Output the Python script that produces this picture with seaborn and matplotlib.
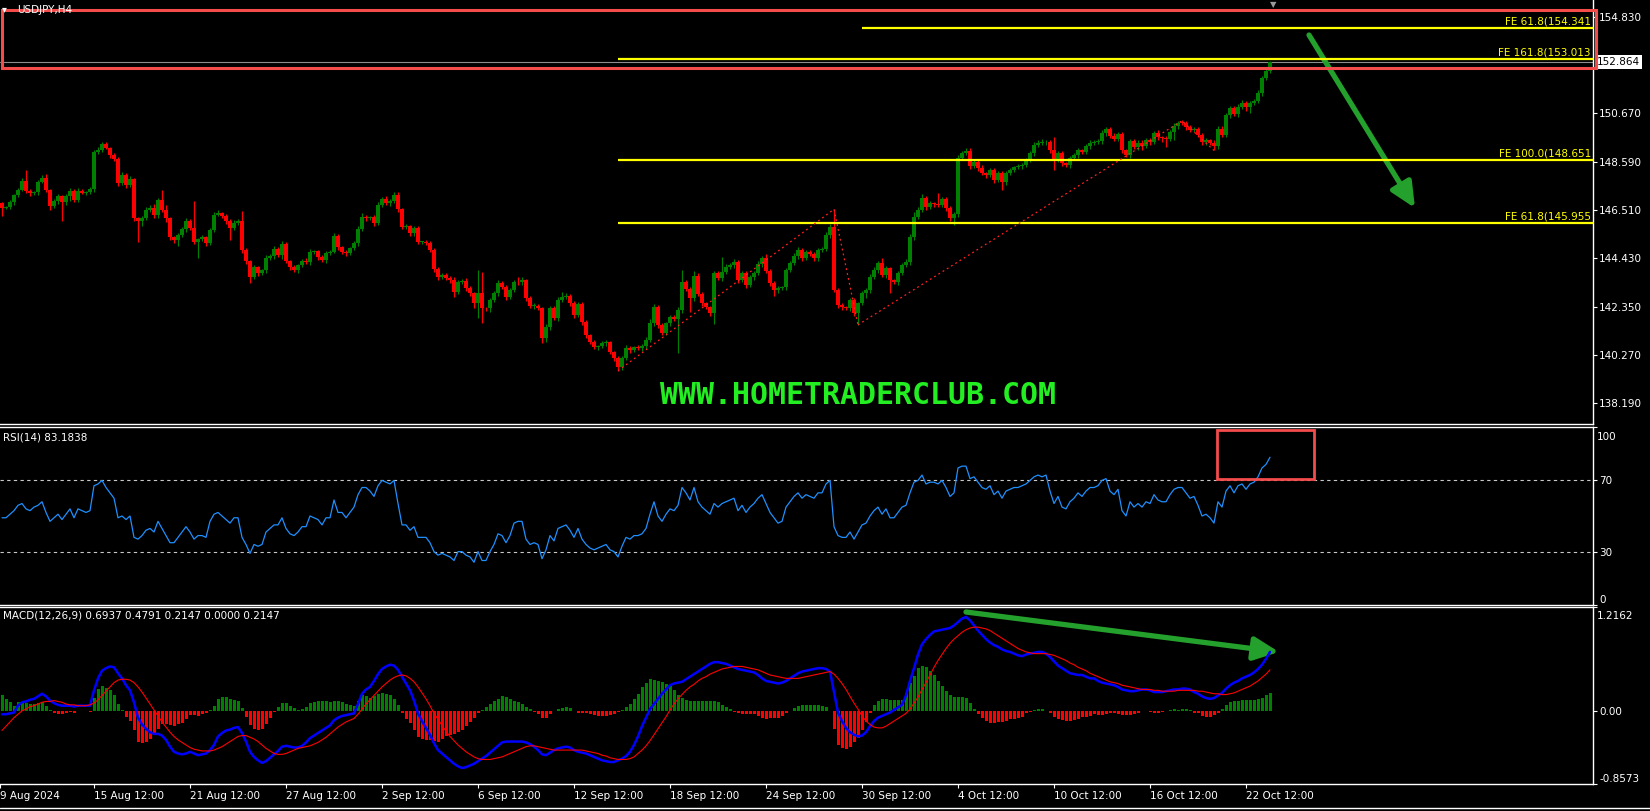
import numpy as np
import matplotlib
matplotlib.use("Agg")
import matplotlib.pyplot as plt
import seaborn as sns
from matplotlib.lines import Line2D
from matplotlib.patches import Rectangle

W, H = 1650, 811

# ---- USDJPY H4 candles (one row = 24 bars = 4 trading days) ----
first_open = 146.81
closes = [
    146.60, 146.64, 146.85, 147.16, 147.37, 147.76, 147.33, 147.24, 147.28, 147.72, 147.89, 147.37, 146.68, 146.90, 147.11, 146.85, 147.11, 147.33, 146.94, 147.33, 147.24, 147.28, 147.41, 149.01,
    149.09, 149.35, 149.18, 148.88, 148.71, 147.67, 148.02, 147.59, 147.84, 146.16, 146.04, 146.16, 146.51, 146.60, 146.29, 146.94, 146.51, 146.16, 145.35, 145.22, 145.43, 145.69, 146.04, 145.73,
    145.13, 145.26, 145.35, 145.09, 145.65, 146.29, 146.38, 146.25, 146.04, 145.73, 145.95, 146.04, 144.79, 144.31, 143.62, 144.05, 143.80, 143.93, 144.44, 144.53, 144.83, 144.57, 145.05, 144.31,
    144.05, 143.93, 144.14, 144.31, 144.27, 144.70, 144.74, 144.49, 144.36, 144.66, 144.70, 145.39, 144.92, 144.70, 144.66, 144.87, 145.09, 145.69, 146.21, 146.16, 146.21, 145.95, 146.72, 146.98,
    146.81, 146.90, 147.16, 146.55, 145.78, 145.82, 145.52, 145.73, 145.13, 145.13, 145.10, 144.79, 143.97, 143.62, 143.71, 143.58, 143.49, 142.98, 143.41, 143.44, 143.15, 142.93, 142.50, 142.93,
    142.29, 142.27, 142.63, 142.93, 143.37, 143.19, 142.76, 143.06, 143.41, 143.39, 143.49, 142.72, 142.37, 142.39, 142.29, 141.00, 141.47, 142.29, 141.86, 142.63, 142.76, 142.81, 142.50, 141.99,
    142.46, 141.69, 141.13, 140.82, 140.61, 140.65, 140.78, 140.82, 140.39, 140.13, 139.75, 140.13, 140.57, 140.48, 140.61, 140.57, 140.65, 140.91, 141.64, 142.33, 141.56, 141.21, 141.64, 141.90,
    141.81, 142.20, 143.41, 143.11, 142.72, 143.67, 142.89, 142.50, 142.33, 142.07, 143.80, 143.58, 143.84, 144.05, 144.14, 144.27, 143.49, 143.80, 143.28, 143.62, 143.80, 144.18, 144.44, 143.88,
    143.37, 143.06, 143.15, 143.19, 143.93, 144.23, 144.53, 144.79, 144.44, 144.70, 144.62, 144.44, 144.79, 144.83, 145.43, 145.78, 143.06, 142.42, 142.33, 142.29, 142.63, 142.07, 142.50, 142.93,
    143.06, 143.62, 143.93, 144.23, 143.71, 144.01, 143.49, 143.41, 143.80, 144.14, 144.27, 145.35, 146.21, 146.51, 147.03, 146.64, 146.81, 146.77, 146.72, 146.98, 146.60, 146.16, 146.34, 148.75,
    148.96, 149.05, 148.40, 148.58, 148.32, 148.10, 148.02, 148.23, 147.80, 148.10, 147.72, 148.10, 148.23, 148.36, 148.40, 148.45, 148.66, 148.96, 149.31, 149.40, 149.42, 149.44, 149.09, 148.66,
    148.96, 148.53, 148.45, 148.75, 148.88, 149.09, 149.01, 149.27, 149.40, 149.44, 149.48, 149.83, 150.00, 149.70, 149.57, 149.78, 149.09, 148.88, 149.48, 149.22, 149.40, 149.27, 149.52, 149.44,
    149.83, 149.65, 149.61, 149.57, 149.87, 150.13, 150.26, 150.25, 150.08, 149.96, 150.00, 149.74, 149.44, 149.52, 149.40, 149.27, 150.00, 149.74, 150.60, 150.90, 150.64, 150.95, 151.12, 150.95,
    151.12, 151.20, 151.55, 152.19, 152.50, 152.86,
]
# wick lengths beyond the body, in 0.01 yen
wick_up = [
    6, 4, 8, 5, 10, 12, 47, 6, 4, 9, 12, 15, 5, 8, 10, 6, 9, 14, 8, 12, 6, 5, 8, 10,
    12, 8, 10, 5, 7, 6, 14, 9, 12, 6, 4, 8, 12, 10, 18, 8, 43, 22, 6, 5, 10, 9, 14, 7,
    117, 6, 8, 5, 10, 14, 12, 6, 9, 8, 12, 10, 43, 8, 5, 10, 6, 4, 12, 9, 14, 8, 10, 6,
    5, 8, 6, 10, 12, 14, 6, 5, 8, 10, 9, 12, 7, 5, 8, 6, 10, 14, 18, 6, 5, 8, 12, 9,
    14, 8, 10, 12, 5, 9, 6, 8, 7, 6, 10, 5, 8, 6, 10, 9, 8, 12, 6, 10, 12, 8, 6, 100,
    90, 6, 10, 8, 12, 6, 8, 10, 9, 22, 12, 6, 8, 10, 5, 6, 12, 8, 10, 14, 20, 12, 8, 10,
    8, 10, 6, 5, 7, 6, 8, 10, 6, 5, 8, 10, 12, 8, 6, 10, 8, 12, 18, 14, 8, 10, 6, 8,
    10, 12, 52, 8, 10, 22, 12, 8, 6, 5, 8, 10, 65, 14, 10, 12, 8, 10, 6, 8, 10, 14, 10, 18,
    8, 6, 10, 5, 8, 10, 12, 14, 10, 8, 10, 6, 8, 10, 12, 14, 76, 10, 8, 6, 10, 8, 6, 8,
    10, 12, 14, 10, 21, 8, 6, 5, 10, 8, 12, 14, 20, 12, 18, 10, 8, 6, 47, 10, 8, 6, 8, 12,
    10, 14, 13, 10, 8, 12, 6, 8, 10, 8, 10, 9, 8, 6, 10, 8, 10, 8, 12, 10, 14, 10, 8, 58,
    10, 8, 6, 10, 8, 10, 6, 8, 12, 10, 8, 14, 10, 8, 12, 10, 8, 6, 10, 8, 14, 10, 8, 10,
    8, 10, 6, 8, 10, 12, 8, 14, 10, 8, 6, 10, 8, 10, 6, 10, 12, 13, 8, 10, 8, 10, 12, 8,
    10, 8, 12, 10, 14, 8,
]
wick_dn = [
    34, 6, 10, 12, 8, 6, 10, 14, 8, 12, 6, 10, 18, 8, 14, 80, 12, 20, 8, 10, 6, 8, 10, 12,
    8, 10, 6, 12, 10, 14, 8, 12, 10, 14, 90, 22, 10, 8, 12, 14, 10, 18, 14, 12, 28, 10, 12, 8,
    10, 69, 8, 12, 10, 8, 6, 10, 12, 51, 8, 10, 14, 12, 24, 10, 12, 8, 14, 10, 12, 8, 16, 10,
    12, 8, 14, 10, 8, 12, 10, 14, 8, 12, 10, 6, 14, 10, 12, 8, 10, 12, 8, 14, 10, 12, 8, 10,
    10, 12, 8, 14, 10, 8, 12, 14, 10, 8, 12, 10, 14, 12, 8, 10, 12, 20, 10, 8, 12, 14, 20, 64,
    63, 10, 14, 8, 12, 10, 14, 8, 10, 12, 10, 14, 8, 12, 10, 22, 20, 14, 10, 12, 8, 10, 14, 12,
    10, 14, 12, 10, 8, 12, 10, 14, 10, 12, 17, 14, 10, 12, 8, 10, 14, 12, 10, 14, 12, 10, 8, 12,
    10, 146, 12, 10, 60, 14, 10, 12, 10, 14, 47, 10, 12, 8, 10, 12, 14, 10, 12, 10, 14, 8, 12, 10,
    12, 26, 14, 10, 12, 8, 10, 12, 14, 10, 8, 12, 14, 10, 8, 12, 10, 14, 12, 10, 14, 12, 51, 10,
    20, 12, 10, 14, 10, 12, 56, 10, 12, 8, 10, 14, 12, 10, 8, 12, 10, 14, 8, 10, 14, 12, 30, 12,
    10, 8, 12, 10, 14, 10, 12, 8, 14, 10, 35, 12, 10, 8, 10, 12, 8, 10, 12, 8, 10, 12, 14, 43,
    10, 12, 8, 14, 10, 12, 8, 10, 12, 8, 10, 14, 12, 10, 8, 10, 12, 11, 14, 10, 12, 20, 10, 14,
    10, 12, 18, 33, 10, 35, 14, 10, 12, 8, 10, 7, 12, 14, 10, 20, 12, 10, 8, 12, 10, 12, 8, 20,
    26, 10, 8, 12, 10, 8,
]

# ---- RSI(14) ----
rsi = [
    49, 49, 51, 53, 56, 57, 54, 53, 55, 56, 58, 52, 47, 49, 51, 48, 51, 54, 49, 54, 53, 52, 53, 67,
    68, 70, 66, 63, 60, 49, 50, 48, 50, 38, 37, 39, 42, 43, 41, 47, 43, 39, 35, 35, 38, 41, 44, 41,
    37, 39, 39, 38, 47, 51, 52, 50, 48, 46, 49, 49, 38, 34, 29, 34, 33, 34, 41, 43, 45, 45, 49, 43,
    40, 39, 41, 44, 44, 50, 49, 48, 45, 49, 49, 59, 52, 52, 49, 52, 55, 62, 66, 66, 64, 61, 67, 70,
    69, 68, 70, 57, 45, 45, 42, 44, 38, 38, 38, 35, 30, 28, 29, 28, 27, 25, 30, 30, 28, 27, 24, 30,
    25, 25, 30, 34, 40, 39, 35, 39, 46, 47, 47, 37, 34, 35, 34, 26, 31, 39, 36, 43, 44, 45, 42, 38,
    43, 37, 34, 32, 31, 32, 33, 34, 31, 30, 27, 33, 38, 37, 39, 39, 40, 43, 51, 58, 50, 47, 51, 54,
    53, 56, 66, 63, 59, 66, 58, 55, 53, 51, 57, 55, 57, 58, 59, 60, 53, 56, 52, 55, 57, 60, 62, 57,
    52, 49, 46, 47, 55, 58, 61, 63, 60, 62, 61, 60, 63, 63, 68, 70, 44, 39, 38, 38, 41, 37, 41, 45,
    46, 50, 53, 55, 51, 54, 49, 49, 52, 55, 56, 63, 69, 70, 73, 68, 69, 69, 68, 70, 66, 61, 63, 77,
    78, 78, 71, 72, 69, 66, 65, 67, 62, 64, 60, 64, 65, 66, 66, 67, 68, 70, 72, 73, 72, 73, 64, 57,
    61, 55, 54, 58, 60, 63, 61, 64, 66, 66, 67, 70, 71, 64, 62, 65, 53, 50, 58, 55, 57, 55, 58, 57,
    62, 59, 58, 58, 62, 65, 66, 66, 63, 60, 61, 56, 50, 51, 49, 46, 58, 55, 64, 67, 63, 67, 68, 65,
    68, 69, 72, 77, 79, 83,
]

# ---- MACD(12,26,9), in 0.01 ----
macd_main = [
    -4, -4, -3, -2, 6, 10, 11, 13, 14, 17, 20, 17, 12, 9, 7, 6, 6, 6, 5, 6, 6, 6, 6, 24,
    38, 47, 50, 52, 51, 44, 38, 30, 24, 10, -8, -16, -21, -25, -27, -27, -29, -34, -42, -48, -50, -51, -50, -48,
    -50, -52, -51, -50, -46, -40, -30, -26, -23, -22, -20, -19, -26, -36, -48, -54, -58, -61, -59, -55, -51, -47, -42, -41,
    -42, -43, -43, -41, -37, -32, -29, -26, -23, -20, -17, -11, -8, -6, -5, -4, -3, 8, 20, 25, 28, 35, 43, 49,
    52, 54, 53, 48, 40, 32, 24, 12, -3, -12, -20, -28, -38, -46, -50, -54, -58, -62, -65, -67, -66, -64, -62, -59,
    -56, -53, -49, -45, -41, -37, -36, -36, -36, -36, -36, -37, -39, -42, -46, -51, -52, -49, -46, -44, -43, -42, -43, -46,
    -48, -49, -50, -52, -54, -56, -58, -59, -60, -60, -58, -56, -53, -48, -40, -30, -18, -8, 2, 8, 14, 20, 25, 30,
    32, 33, 34, 37, 40, 43, 46, 49, 52, 55, 57, 57, 56, 55, 53, 51, 49, 48, 47, 46, 45, 42, 38, 35,
    34, 33, 32, 33, 35, 38, 41, 44, 46, 47, 48, 49, 50, 50, 49, 46, 22, -2, -12, -20, -25, -28, -30, -29,
    -25, -18, -12, -8, -6, -4, -2, 1, 4, 7, 18, 35, 50, 66, 78, 84, 89, 93, 94, 95, 96, 97, 100, 104,
    108, 110, 106, 100, 94, 89, 84, 80, 77, 75, 72, 70, 69, 67, 65, 64, 66, 67, 68, 69, 69, 67, 63, 58,
    53, 50, 47, 44, 43, 42, 42, 40, 38, 38, 35, 33, 32, 31, 30, 28, 25, 24, 23, 23, 24, 25, 25, 24,
    22, 22, 22, 23, 24, 25, 25, 26, 26, 25, 22, 20, 17, 15, 14, 15, 18, 21, 26, 30, 33, 35, 38, 40,
    42, 45, 49, 54, 61, 69,
]
macd_signal = [
    -23, -18, -13, -8, -4, 0, 2, 5, 6, 8, 10, 11, 11, 12, 11, 10, 8, 7, 7, 6, 6, 6, 7, 9,
    13, 18, 23, 28, 33, 36, 37, 37, 36, 33, 28, 22, 15, 8, 1, -6, -13, -19, -25, -30, -34, -37, -40, -43,
    -45, -46, -47, -47, -47, -46, -44, -42, -39, -36, -33, -30, -29, -29, -31, -33, -36, -40, -44, -47, -50, -51, -51, -50,
    -48, -46, -44, -43, -42, -41, -39, -37, -34, -31, -27, -23, -19, -16, -13, -11, -9, -4, 2, 8, 13, 18, 23, 28,
    32, 36, 39, 41, 42, 41, 38, 34, 28, 21, 14, 6, -3, -10, -17, -24, -30, -35, -40, -44, -48, -51, -54, -56,
    -57, -57, -57, -56, -55, -54, -52, -50, -48, -46, -44, -42, -41, -41, -42, -43, -44, -45, -46, -46, -46, -46, -46, -46,
    -46, -46, -47, -48, -49, -50, -52, -53, -55, -56, -57, -57, -57, -56, -54, -50, -46, -41, -35, -28, -21, -14, -7, 1,
    8, 14, 19, 24, 28, 31, 35, 38, 40, 43, 45, 47, 49, 50, 51, 52, 52, 52, 51, 50, 49, 48, 46, 44,
    42, 41, 40, 39, 38, 38, 38, 38, 39, 40, 41, 42, 43, 44, 45, 46, 43, 38, 32, 25, 17, 9, 2, -6,
    -12, -16, -19, -20, -20, -18, -15, -12, -9, -6, -3, 2, 9, 16, 25, 33, 42, 51, 59, 66, 73, 79, 84, 88,
    92, 95, 97, 98, 98, 97, 96, 94, 91, 88, 85, 82, 79, 76, 73, 71, 69, 68, 67, 67, 67, 67, 66, 65,
    63, 61, 59, 56, 54, 51, 49, 47, 44, 42, 40, 38, 36, 34, 33, 32, 30, 29, 28, 27, 26, 25, 25, 25,
    24, 24, 23, 23, 23, 23, 24, 24, 24, 24, 24, 23, 23, 22, 21, 20, 20, 19, 19, 20, 21, 23, 25, 27,
    29, 32, 35, 39, 43, 48,
]

# ---- axis / annotation values ----
price_ticks = [138.19, 140.27, 142.35, 144.43, 146.51, 148.59, 150.67, 154.83]
last_price = 152.864
date_tick_bars = [-0.5, 23, 47, 71, 95, 119, 143, 167, 191, 215, 239, 263, 287, 311]
date_tick_labels = ["9 Aug 2024", "15 Aug 12:00", "21 Aug 12:00", "27 Aug 12:00", "2 Sep 12:00",
                    "6 Sep 12:00", "12 Sep 12:00", "18 Sep 12:00", "24 Sep 12:00", "30 Sep 12:00",
                    "4 Oct 12:00", "10 Oct 12:00", "16 Oct 12:00", "22 Oct 12:00"]
fe_levels = [154.341, 153.013, 148.651, 145.955]
fe_names = ["FE 61.8(154.341", "FE 161.8(153.013", "FE 100.0(148.651", "FE 61.8(145.955"]
fe_start = [215, 154, 154, 154]
fe1_bars, fe1_prices = [154, 208, 214], [139.58, 146.54, 141.56]
fe2_bars, fe2_prices = [214, 295, 303], [141.56, 150.35, 149.07]

XMAX = 397.75  # 4 px per bar over the 1593 px chart width

sns.set_theme(style="dark", rc={"axes.facecolor": "black", "figure.facecolor": "black"})
plt.rcParams["font.family"] = ["DejaVu Sans", "Noto Sans CJK SC"]

fig = plt.figure(figsize=(W / 100, H / 100), dpi=100, facecolor="black")


def px_box(x0, y0, x1, y1):
    # pixel box (top-left origin) -> figure fraction rect
    return [x0 / W, 1 - y1 / H, (x1 - x0) / W, (y1 - y0) / H]


ax_p = fig.add_axes(px_box(0, 0, 1593, 424))
ax_r = fig.add_axes(px_box(0, 427, 1593, 605))
ax_m = fig.add_axes(px_box(0, 607, 1593, 784))


def style_axes(ax, spines):
    ax.set_facecolor("black")
    ax.grid(False)
    for side, sp in ax.spines.items():
        sp.set_visible(side in spines)
        sp.set_color("white")
        sp.set_linewidth(1)
    ax.yaxis.tick_right()
    ax.tick_params(axis="y", colors="white", labelsize=7.5, length=3, width=0.8, pad=1.5,
                   left=False, right=True, labelleft=False, labelright=True)
    ax.tick_params(axis="x", bottom=False, labelbottom=False)
    ax.set_xlim(-0.5, XMAX)
    ax.set_xlabel("")
    ax.set_ylabel("")


bars = np.arange(len(closes))
c = np.array(closes)
o = np.r_[first_open, c[:-1]]  # FX H4 bars open at the previous close
body_lo = np.minimum(o, c)
body_hi = np.maximum(o, c)
highs = body_hi + np.array(wick_up) / 100
lows = body_lo - np.array(wick_dn) / 100
cols = np.where(c >= o, "#008000", "#ff0000")

# ---- price panel ----
ax_p.vlines(bars, lows, highs, colors=cols, lw=0.85, zorder=2)
ax_p.bar(bars, np.maximum(body_hi - body_lo, 0.03), bottom=body_lo, width=0.8,
         color=cols, linewidth=0, zorder=3)
ax_p.hlines(fe_levels, fe_start, XMAX, colors="#ffff00", lw=1.6, zorder=4)
for lvl, name in zip(fe_levels, fe_names):
    ax_p.annotate(name, xy=(397.2, lvl), xytext=(0, 1.2), textcoords="offset points",
                  ha="right", va="bottom", color="#ffff00", fontsize=7.5)
ax_p.plot(fe1_bars, fe1_prices, color="#ff2020", lw=0.9, ls=(0, (1.5, 2.5)), zorder=4)
ax_p.plot(fe2_bars, fe2_prices, color="#ff2020", lw=0.9, ls=(0, (1.5, 2.5)), zorder=4)
ax_p.axhline(last_price, color="#8c8c8c", lw=0.8, zorder=1)
ax_p.set_ylim(137.29, 155.55)
style_axes(ax_p, ["bottom", "right"])
ax_p.set_yticks(price_ticks)
ax_p.set_yticklabels([f"{t:.3f}" for t in price_ticks])
ax_p.annotate(f"{last_price:.3f}", xy=(1, last_price), xycoords=("axes fraction", "data"),
              xytext=(3, 0), textcoords="offset points", ha="left", va="center",
              color="black", fontsize=7.5,
              bbox=dict(boxstyle="square,pad=0.2", fc="white", ec="none"), annotation_clip=False)

# ---- RSI panel ----
sns.lineplot(x=bars, y=rsi, ax=ax_r, color="#1e90ff", linewidth=0.9)
for lvl in (70, 30):
    ax_r.axhline(lvl, color="#c8c8c8", lw=0.8, ls=(0, (3, 3)), zorder=1)
ax_r.set_ylim(0, 100)
style_axes(ax_r, ["top", "bottom", "right"])
ax_r.set_yticks([0, 30, 70, 100])
ax_r.set_yticklabels(["0", "30", "70", ""])
ax_r.get_yticklabels()[0].set_va("bottom")

# ---- MACD panel ----
m_main = np.array(macd_main) / 100
m_sig = np.array(macd_signal) / 100
hist = m_main - m_sig
ax_m.bar(bars, hist, width=0.75, color=np.where(hist >= 0, "#008000", "#ff0000"),
         linewidth=0, zorder=2)
sns.lineplot(x=bars, y=m_main, ax=ax_m, color="#0000ff", linewidth=1.8, zorder=4)
sns.lineplot(x=bars, y=m_sig, ax=ax_m, color="#ff0000", linewidth=0.8, zorder=5)
ax_m.set_ylim(-0.8573, 1.2162)
style_axes(ax_m, ["top", "bottom", "right"])
ax_m.set_yticks([-0.8573, 0, 1.2162])
ax_m.set_yticklabels(["-0.8573", "0.00", ""])
ax_m.get_yticklabels()[0].set_va("bottom")
ax_m.set_xticks(date_tick_bars)
ax_m.set_xticklabels(date_tick_labels, ha="left")
ax_m.tick_params(axis="x", bottom=True, labelbottom=True, colors="white", labelsize=7.5,
                 length=3, width=0.8, pad=2.2)

# top-of-panel scale labels sit a little below the border, as in the terminal
fig.text(1597 / W, 1 - 437 / H, "100", color="white", fontsize=7.5, va="center")
fig.text(1597 / W, 1 - 616 / H, "1.2162", color="white", fontsize=7.5, va="center")

# ---- labels and drawings ----
fig.text(2 / W, 1 - 9 / H, "\u25be", color="white", fontsize=7, va="center")
fig.text(17 / W, 1 - 10 / H, "USDJPY,H4", color="white", fontsize=7.5, va="center")
fig.text(3 / W, 1 - 438 / H, "RSI(14) 83.1838", color="white", fontsize=7.5, va="center")
fig.text(3 / W, 1 - 616 / H, "MACD(12,26,9) 0.6937 0.4791 0.2147 0.0000 0.2147",
         color="white", fontsize=7.5, va="center")
fig.text(1273 / W, 1 - 0 / H, "\u25bc", color="#9a9a9a", fontsize=6, ha="center", va="top")
fig.text(858 / W, 1 - 396 / H, "WWW.HOMETRADERCLUB.COM", color="#22ee22", fontsize=21.5,
         fontweight="bold", family="DejaVu Sans Mono", ha="center", va="center")

fig.add_artist(Line2D([0, 1], [1 - 808 / H] * 2, color="white", lw=1))
fig.add_artist(Rectangle((2 / W, 1 - 68 / H), 1594 / W, 58 / H, transform=fig.transFigure,
                         fill=False, ec="#f44b4b", lw=2.2))
fig.add_artist(Rectangle((1217 / W, 1 - 479 / H), 97 / W, 49 / H, transform=fig.transFigure,
                         fill=False, ec="#f44b4b", lw=2))

arrow = dict(arrowstyle="-|>,head_length=0.75,head_width=0.35", lw=3.8, color="#24a02c",
             shrinkA=0, shrinkB=0, mutation_scale=20)
ax_p.annotate("", xy=(1415 / W, 1 - 208 / H), xytext=(1309 / W, 1 - 35 / H),
              xycoords="figure fraction", arrowprops=arrow, annotation_clip=False)
ax_m.annotate("", xy=(1279 / W, 1 - 652 / H), xytext=(966 / W, 1 - 612 / H),
              xycoords="figure fraction", arrowprops=arrow, annotation_clip=False)

fig.savefig("out.png", dpi=100, facecolor="black")
